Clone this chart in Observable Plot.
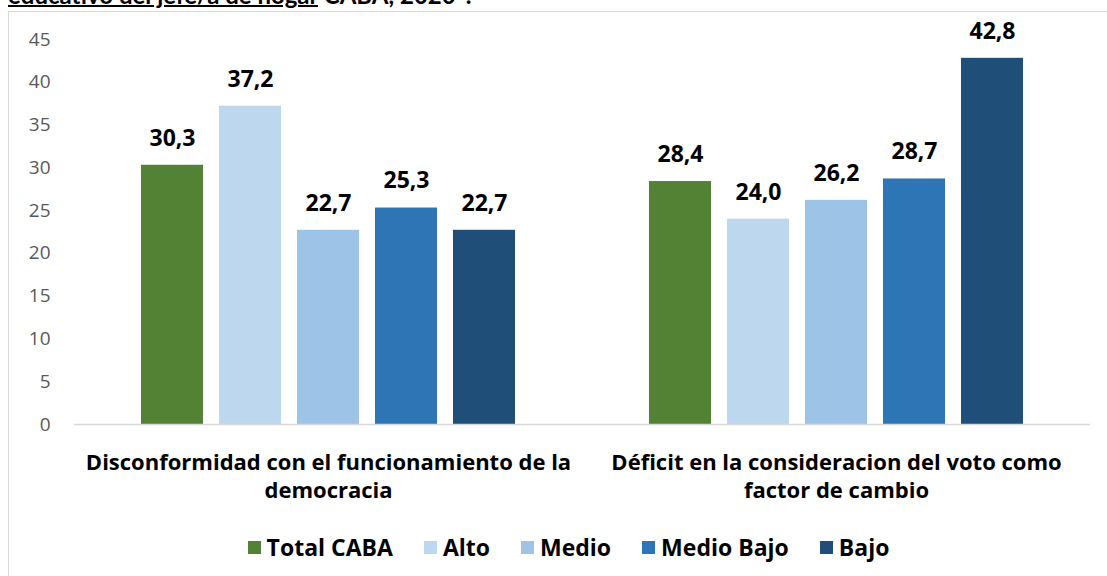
<!DOCTYPE html>
<html>
<head>
<meta charset="utf-8">
<script src="https://cdn.jsdelivr.net/npm/d3@7"></script>
<script src="https://cdn.jsdelivr.net/npm/@observablehq/plot@0.6"></script>
<style>
  html, body { margin: 0; padding: 0; background: #fff; width: 1107px; height: 576px; overflow: hidden; font-family: "Open Sans", Lato, sans-serif; }
  #title { position: absolute; left: 8px; top: -17px; font-family: Lato, sans-serif; font-size: 24px; line-height: 24px; font-weight: bold; color: #000; white-space: nowrap; }
  #title u { text-decoration-thickness: 2px; }
  #box { position: absolute; left: 8px; top: 11px; width: 1130px; height: 620px; border: 1px solid #d9d9d9; box-sizing: border-box; }
  #chart { position: absolute; left: 0; top: 0; }
  #legend { position: absolute; left: 0; top: 532px; width: 1137px; display: flex; justify-content: center; align-items: center; gap: 31px; font-size: 23px; line-height: 30px; font-weight: bold; color: #000; }
  #legend .item { display: flex; align-items: center; gap: 6px; }
  #legend .sw { width: 13px; height: 13px; display: inline-block; }
</style>
</head>
<body>
<div id="title"><u>educativo del jefe/a de hogar</u> CABA, 2020*.</div>
<div id="box"></div>
<div id="chart"></div>
<div id="legend"></div>
<script>
const groups = [
  "Disconformidad con el funcionamiento de la\ndemocracia",
  "Déficit en la consideracion del voto como\nfactor de cambio"
];
const levels = ["Total CABA", "Alto", "Medio", "Medio Bajo", "Bajo"];
const disconformidad = [30.3, 37.2, 22.7, 25.3, 22.7];
const deficit = [28.4, 24.0, 26.2, 28.7, 42.8];
const colors = ["#548235", "#BDD7EE", "#9DC3E6", "#2E75B6", "#1F4E79"];

const data = [];
levels.forEach((l, i) => data.push({group: groups[0], level: l, value: disconformidad[i]}));
levels.forEach((l, i) => data.push({group: groups[1], level: l, value: deficit[i]}));

const fmt = v => v.toFixed(1).replace(".", ",");

const chart = Plot.plot({
  width: 1107,
  height: 520,
  marginLeft: 73,
  marginRight: 17,
  marginTop: 39,
  marginBottom: 96,
  style: {fontFamily: "'Open Sans', Lato, sans-serif", background: "transparent"},
  fx: {domain: groups, paddingInner: 0, paddingOuter: 0, label: null},
  x: {domain: levels, paddingInner: 0.207, paddingOuter: 0.855, axis: null},
  y: {domain: [0, 45], label: null},
  color: {domain: levels, range: colors},
  marks: [
    Plot.axisY({ticks: 10, tickSize: 0, tickPadding: 24, fontSize: 19, color: "#595959", label: null}),
    Plot.axisFx({anchor: "bottom", tickSize: 0, tickPadding: 25, fontSize: 22, fontWeight: "bold", lineHeight: 1.28, color: "#000", label: null}),
    Plot.barY(data, {fx: "group", x: "level", y: "value", fill: "level"}),
    Plot.ruleY([0], {stroke: "#d9d9d9", strokeWidth: 1.5}),
    Plot.text(data, {fx: "group", x: "level", y: "value", text: d => fmt(d.value), dy: -27, fontSize: 23, fontWeight: "bold", fill: "#000", lineAnchor: "middle"})
  ]
});
document.getElementById("chart").appendChild(chart);

const legend = document.getElementById("legend");
levels.forEach((l, i) => {
  const item = document.createElement("div");
  item.className = "item";
  const sw = document.createElement("span");
  sw.className = "sw";
  sw.style.background = colors[i];
  const t = document.createElement("span");
  t.textContent = l;
  item.appendChild(sw);
  item.appendChild(t);
  legend.appendChild(item);
});
</script>
</body>
</html>
